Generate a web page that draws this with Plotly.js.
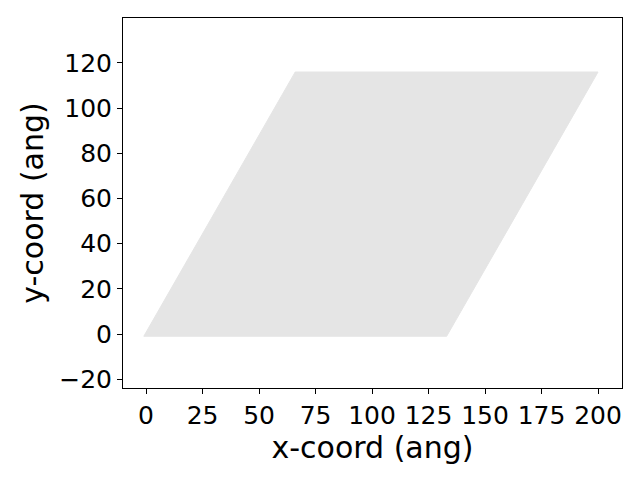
<!DOCTYPE html>
<html><head><script src="https://cdn.plot.ly/plotly-3.0.1.min.js"></script></head>
<body style="margin:0"><div id="c" style="width:640px;height:480px"></div>
<script>
// corners of the filled lattice region (ang)
const cornerX = [-1, 133, 200, 66, -1];
const cornerY = [-1, -1, 116, 116, -1];

const trace = { x: cornerX, y: cornerY, type: 'scatter', mode: 'lines', fill: 'toself',
  fillcolor: '#e5e5e5', line: { color: '#e5e5e5', width: 1 }, hoverinfo: 'skip' };

const ax = { showgrid: false, zeroline: false, showline: true, mirror: true, linecolor: '#000',
  ticks: 'outside', ticklen: 5, tickcolor: '#000', tickfont: { size: 25, color: '#000' } };

Plotly.newPlot('c', [trace], {
  margin: { l: 123, r: 18, t: 18, b: 92 },
  paper_bgcolor: '#fff', plot_bgcolor: '#fff',
  font: { family: 'DejaVu Sans', color: '#000' },
  xaxis: Object.assign({}, ax, { range: [-10.2, 210.6], tickvals: [0,25,50,75,100,125,150,175,200],
    title: { text: 'x-coord (ang)', font: { size: 30 }, standoff: 4 } }),
  yaxis: Object.assign({}, ax, { range: [-23.9, 139.9], tickvals: [-20,0,20,40,60,80,100,120],
    ticktext: ['\u221220','0','20','40','60','80','100','120'],
    title: { text: 'y-coord (ang)', font: { size: 30 }, standoff: 6 } }),
  showlegend: false
}, { displayModeBar: false, staticPlot: true });
</script></body></html>
